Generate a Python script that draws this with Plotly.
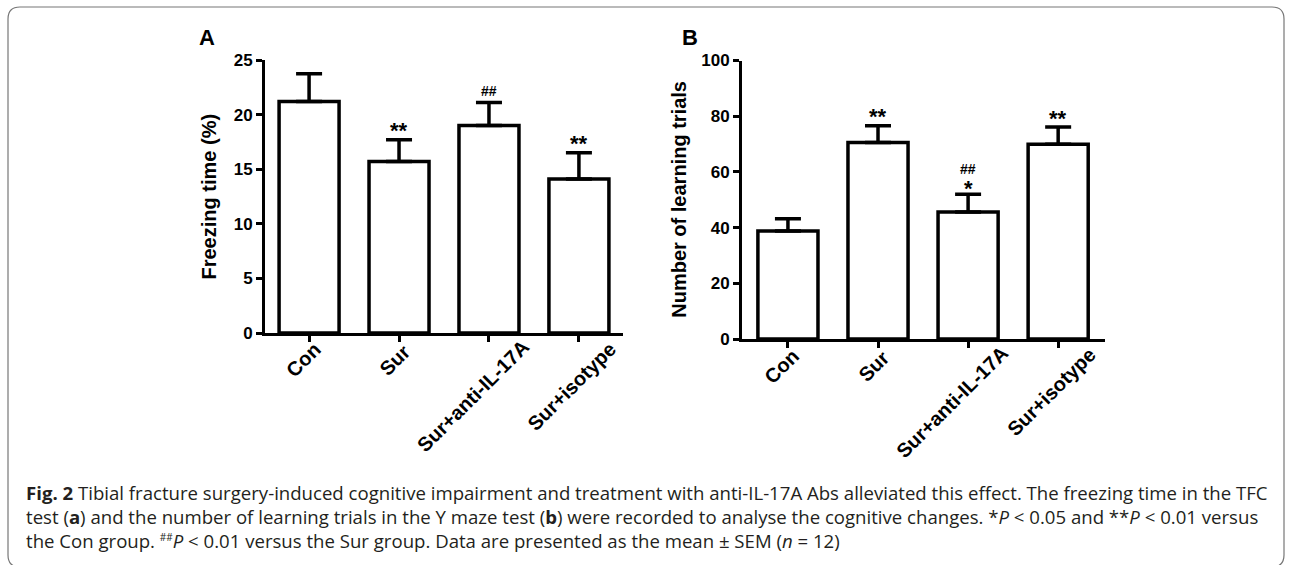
import plotly.graph_objects as go

categories = ["Con", "Sur", "Sur+anti-IL-17A", "Sur+isotype"]
freezing_mean = [21.2, 15.7, 19.0, 14.1]
freezing_sem = [2.55, 2.0, 2.1, 2.4]
freezing_stars = ["", "**", "", "**"]
freezing_hash = ["", "", "##", ""]
trials_mean = [38.8, 70.6, 45.6, 69.9]
trials_sem = [4.4, 6.0, 6.4, 6.2]
trials_stars = ["", "**", "*", "**"]
trials_hash = ["", "", "##", ""]

# pixel offsets of each rotated category label's centre from (tick, axis line)
label_offsets = [(-6, 27), (-4, 27), (-16, 63), (-7, 53)]

W, H = 1290, 565
FONT = "Arial, Liberation Sans, sans-serif"
xpos = list(range(len(categories)))

fig = go.Figure()


def px_x(p):
    return p / W


def px_y(p):
    return 1 - p / H


panels = [
    dict(xa="x", ya="y", mean=freezing_mean, sem=freezing_sem, stars=freezing_stars,
         hashes=freezing_hash, xdom=[265, 623], ydom=[333, 60], yrange=[0, 25], dtick=5,
         xr=[-0.49, 3.49], title="Freezing time (%)", title_x=208, letter="A", letter_x=207),
    dict(xa="x2", ya="y2", mean=trials_mean, sem=trials_sem, stars=trials_stars,
         hashes=trials_hash, xdom=[742, 1105], ydom=[339, 60.5], yrange=[0, 100], dtick=20,
         xr=[-0.51, 3.52], title="Number of learning trials", title_x=679, letter="B",
         letter_x=690),
]

annotations = []
for i, p in enumerate(panels):
    fig.add_trace(go.Bar(
        x=xpos, y=p["mean"], width=0.667,
        marker=dict(color="white", line=dict(color="black", width=3.5)),
        error_y=dict(type="data", array=p["sem"], arrayminus=[0] * len(p["sem"]),
                     symmetric=False, color="black", thickness=3.5, width=13),
        xaxis=p["xa"], yaxis=p["ya"], showlegend=False, hoverinfo="skip",
    ))
    sfx = "" if i == 0 else str(i + 1)
    fig.update_layout(**{
        "xaxis" + sfx: dict(domain=[px_x(p["xdom"][0]), px_x(p["xdom"][1])],
                            range=p["xr"], tickvals=xpos, showticklabels=False,
                            showline=True, linecolor="black", linewidth=3,
                            ticks="outside", ticklen=6, tickwidth=3, tickcolor="black",
                            showgrid=False, zeroline=False, anchor="y" + sfx,
                            automargin=False),
        "yaxis" + sfx: dict(domain=[px_y(p["ydom"][0]), px_y(p["ydom"][1])],
                            range=p["yrange"], dtick=p["dtick"], showline=True,
                            linecolor="black", linewidth=3, ticks="outside", ticklen=6,
                            tickwidth=3, tickcolor="black", showgrid=False, zeroline=False,
                            anchor="x" + sfx, automargin=False,
                            tickfont=dict(family=FONT, size=17, color="black", weight="bold")),
    })
    for j, cat in enumerate(categories):
        dx, dy = label_offsets[j]
        annotations.append(dict(xref=p["xa"], yref="paper", x=xpos[j],
                                y=px_y(p["ydom"][0]), text=cat, textangle=-45,
                                showarrow=False, xanchor="center", yanchor="middle",
                                xshift=dx, yshift=-dy,
                                font=dict(family=FONT, size=20, color="black", weight="bold")))
    annotations.append(dict(xref="paper", yref="paper", x=px_x(p["title_x"]),
                            y=px_y((p["ydom"][0] + p["ydom"][1]) / 2), text=p["title"],
                            textangle=-90, showarrow=False, xanchor="center", yanchor="middle",
                            font=dict(family=FONT, size=20, color="black", weight="bold")))
    annotations.append(dict(xref="paper", yref="paper", x=px_x(p["letter_x"]), y=px_y(37),
                            text=p["letter"], showarrow=False, xanchor="center", yanchor="middle",
                            font=dict(family=FONT, size=22, color="black", weight="bold")))
    for j in xpos:
        top = p["mean"][j] + p["sem"][j]
        if p["stars"][j]:
            shift = 6 if p["hashes"][j] else 9
            annotations.append(dict(xref=p["xa"], yref=p["ya"], x=j, y=top, text=p["stars"][j],
                                    showarrow=False, xanchor="center", yanchor="middle",
                                    yshift=shift,
                                    font=dict(family=FONT, size=22, color="black", weight="bold")))
        if p["hashes"][j]:
            shift = 25 if p["stars"][j] else 12
            annotations.append(dict(xref=p["xa"], yref=p["ya"], x=j, y=top, text=p["hashes"][j],
                                    showarrow=False, xanchor="center", yanchor="middle",
                                    yshift=shift,
                                    font=dict(family=FONT, size=14, color="black", weight="bold")))

CAP = "Open Sans, Noto Sans, sans-serif"
caption = [
    "<b>Fig. 2</b> Tibial fracture surgery-induced cognitive impairment and treatment with anti-IL-17A Abs alleviated this effect. The freezing time in the TFC",
    "test (<b>a</b>) and the number of learning trials in the Y maze test (<b>b</b>) were recorded to analyse the cognitive changes. *<i>P</i> &lt; 0.05 and **<i>P</i> &lt; 0.01 versus",
    "the Con group. <sup><span style='font-size:10px'>##</span></sup><i>P</i> &lt; 0.01 versus the Sur group. Data are presented as the mean ± SEM (<i>n</i> = 12)",
]
annotations.append(dict(xref="paper", yref="paper", x=px_x(24), y=px_y(516),
                        text="<br>".join(caption), align="left", showarrow=False,
                        xanchor="left", yanchor="middle",
                        font=dict(family=CAP, size=18.6, color="#231f20")))

L, T, R, B, r = 8, 7, 1284, 567, 12
border = (f"M {px_x(L)} {px_y(T + r)} Q {px_x(L)} {px_y(T)} {px_x(L + r)} {px_y(T)} "
          f"L {px_x(R - r)} {px_y(T)} Q {px_x(R)} {px_y(T)} {px_x(R)} {px_y(T + r)} "
          f"L {px_x(R)} {px_y(B - r)} Q {px_x(R)} {px_y(B)} {px_x(R - r)} {px_y(B)} "
          f"L {px_x(L + r)} {px_y(B)} Q {px_x(L)} {px_y(B)} {px_x(L)} {px_y(B - r)} Z")

fig.update_layout(
    width=W, height=H, margin=dict(l=0, r=0, t=0, b=0, pad=0), autosize=False,
    paper_bgcolor="white", plot_bgcolor="white",
    annotations=annotations,
    shapes=[dict(type="path", xref="paper", yref="paper", path=border,
                 line=dict(color="#777", width=1.2))],
)

fig.write_html(
    "out.html",
    config={"displayModeBar": False},
    post_script="document.body.style.margin='0';document.body.style.overflow='hidden';",
)
